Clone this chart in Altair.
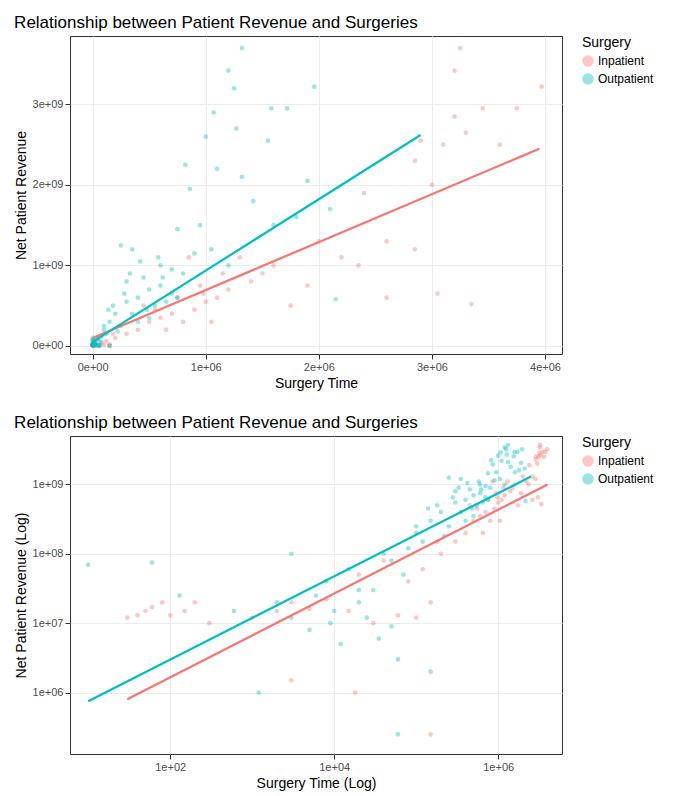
import altair as alt
import pandas as pd

# Outpatient points (surgery time, net patient revenue)
out_x = [1.32e6, 1.2e6, 1.25e6, 1.96e6, 1.72e6, 1.58e6, 1.27e6, 1.07e6, 1.0e6, 1.1e6,
         1.32e6, 1.55e6, 1.42e6, 0.86e6, 0.82e6, 1.6e6, 1.8e6, 2.1e6, 1.9e6, 2.15e6,
         0.95e6, 0.75e6, 0.9e6, 1.05e6, 1.2e6, 0.25e6, 0.35e6, 0.6e6, 0.7e6,
         0.5e6, 0.4e6, 0.3e6, 0.2e6, 0.15e6, 0.1e6, 0.45e6, 0.55e6, 0.6e6, 0.35e6,
         0.25e6, 0.12e6, 0.08e6, 0.05e6, 0.65e6, 0.7e6, 0.3e6, 0.18e6, 0.4e6, 0.22e6,
         0.5e6, 0.8e6, 0.75e6, 0.42e6, 0.28e6, 0.62e6, 0.58e6, 0.33e6, 0.48e6, 0.14e6,
         3e4, 2e4, 1e4, 5e3, 8e3, 1.5e4, 4e4, 3e3, 2e3, 6e3, 2.5e4, 7e4, 1e5, 5e4,
         1.2e4, 3.5e4, 6e4, 2e4, 9e3, 10, 60, 1.2e3, 6e4, 1.5e5, 130, 600, 3e3]
out_y = [3.7e9, 3.42e9, 3.2e9, 3.22e9, 2.95e9, 2.95e9, 2.7e9, 2.9e9, 2.6e9, 2.2e9,
         2.1e9, 2.55e9, 1.8e9, 1.95e9, 2.25e9, 1.5e9, 1.6e9, 1.7e9, 2.05e9, 0.58e9,
         1.5e9, 1.45e9, 1.15e9, 1.2e9, 1.0e9, 1.25e9, 1.2e9, 1.0e9, 0.95e9,
         0.7e9, 0.6e9, 0.55e9, 0.4e9, 0.3e9, 0.25e9, 0.85e9, 0.5e9, 0.75e9, 0.4e9,
         0.25e9, 0.15e9, 0.12e9, 0.08e9, 0.55e9, 0.65e9, 0.8e9, 0.5e9, 0.3e9, 0.18e9,
         0.35e9, 0.9e9, 0.6e9, 1.05e9, 0.65e9, 0.85e9, 1.1e9, 0.9e9, 0.45e9, 0.45e9,
         3e7, 2e7, 1.5e7, 8e6, 4e7, 6e7, 1e8, 1.2e7, 2e7, 2.5e7, 1.2e7, 5e7, 2e8, 9e6,
         5e6, 6e6, 3e6, 3e7, 1e7, 7e7, 7.5e7, 1e6, 2.5e5, 2e6, 2.5e7, 1.5e7, 1e8]

# Inpatient points
in_x = [3.25e6, 3.2e6, 3.97e6, 3.45e6, 3.75e6, 3.2e6, 3.3e6, 3.1e6, 2.85e6, 3.35e6,
        3.05e6, 2.85e6, 2.6e6, 2.6e6, 2.35e6, 2.4e6, 2.2e6, 2.0e6, 1.9e6, 1.75e6,
        1.6e6, 1.5e6, 1.4e6, 1.3e6, 1.2e6, 1.1e6, 1.0e6, 0.95e6, 0.9e6, 0.8e6,
        0.7e6, 0.6e6, 0.5e6, 0.45e6, 0.4e6, 0.3e6, 0.85e6, 0.65e6, 1.05e6, 3.0e6,
        2.9e6, 3.6e6, 0.75e6, 0.55e6, 1.15e6, 0.98e6,
        30, 50, 60, 80, 100, 150, 200, 300, 40, 1e3, 2e3, 3e3, 5e3, 8e3, 1.5e4, 3e4,
        6e4, 1e5, 1.5e5, 2e4, 4e4, 8e4, 1.2e5, 3e3, 1.8e4, 1.5e5, 2e5, 1.8e5]
in_y = [3.7e9, 3.42e9, 3.22e9, 2.95e9, 2.95e9, 2.85e9, 2.65e9, 2.5e9, 2.3e9, 0.52e9,
        0.65e9, 1.2e9, 1.3e9, 0.6e9, 1.0e9, 1.9e9, 1.1e9, 1.3e9, 0.75e9, 0.5e9,
        1.0e9, 0.9e9, 0.8e9, 1.1e9, 0.7e9, 0.6e9, 0.55e9, 0.75e9, 0.45e9, 0.3e9,
        0.4e9, 0.35e9, 0.3e9, 0.5e9, 0.2e9, 0.15e9, 1.1e9, 0.2e9, 0.3e9, 2.0e9,
        2.55e9, 2.5e9, 0.6e9, 0.45e9, 0.9e9, 0.65e9,
        1.2e7, 1.5e7, 1.7e7, 2e7, 1.3e7, 1.5e7, 2e7, 1e7, 1.3e7, 1.2e7, 1.5e7, 2e7,
        1.6e7, 2.2e7, 1.5e7, 1e7, 1.3e7, 1.2e7, 2e7, 5e7, 8e7, 4e7, 6e7, 1.5e6, 1e6,
        2.5e5, 1e8, 1.5e8]

# Fitted lines (endpoints)
lin_fit_x = {"Inpatient": [0, 3.95e6], "Outpatient": [0, 2.9e6]}
lin_fit_y = {"Inpatient": [0.1e9, 2.45e9], "Outpatient": [0.05e9, 2.62e9]}
log_fit_x = {"Inpatient": [30, 4e6], "Outpatient": [10, 2.5e6]}
log_fit_y = {"Inpatient": [8e5, 1e9], "Outpatient": [7.5e5, 1.3e9]}

pts = pd.concat([
    pd.DataFrame({"x": in_x, "y": in_y, "Surgery": "Inpatient"}),
    pd.DataFrame({"x": out_x, "y": out_y, "Surgery": "Outpatient"}),
])


def fit_df(fx, fy):
    rows = []
    for k in fx:
        for a, b in zip(fx[k], fy[k]):
            rows.append({"x": a, "y": b, "Surgery": k})
    return pd.DataFrame(rows)


color = alt.Color("Surgery:N", scale=alt.Scale(domain=["Inpatient", "Outpatient"],
                  range=["#F8766D", "#00BFC4"]),
                  legend=alt.Legend(title="Surgery", symbolType="circle",
                                    titleFontSize=14, labelFontSize=12,
                                    titleFontWeight="normal"))
lab = "replace(format(datum.value, '.0e'), 'e+', 'e+0')"
ax = dict(labelExpr=lab, gridColor="#ebebeb", labelColor="#4d4d4d", labelFontSize=11,
          titleFontSize=14, titleFontWeight="normal", tickColor="#333", domain=False)


def panel(xscale, yscale, xt, yt, xv, yv, fit):
    x = alt.X("x:Q", scale=xscale, title=xt, axis=alt.Axis(values=xv, **ax))
    y = alt.Y("y:Q", scale=yscale, title=yt, axis=alt.Axis(values=yv, **ax))
    p = alt.Chart(pts).mark_circle(size=22, opacity=0.4).encode(x=x, y=y, color=color)
    l = alt.Chart(fit).mark_line(strokeWidth=2.2).encode(x=x, y=y, color=color, detail="Surgery:N")
    return (p + l).properties(
        width=492, height=318,
        title=alt.TitleParams("Relationship between Patient Revenue and Surgeries",
                              fontSize=17, fontWeight="normal", anchor="start"))


top = panel(alt.Scale(domain=[-0.2e6, 4.15e6], nice=False),
            alt.Scale(domain=[-0.1e9, 3.85e9], nice=False),
            "Surgery Time", "Net Patient Revenue",
            [0, 1e6, 2e6, 3e6, 4e6], [0, 1e9, 2e9, 3e9],
            fit_df(lin_fit_x, lin_fit_y))
bot = panel(alt.Scale(type="log", domain=[6, 6e6], nice=False),
            alt.Scale(type="log", domain=[1.3e5, 5e9], nice=False),
            "Surgery Time (Log)", "Net Patient Revenue (Log)",
            [1e2, 1e4, 1e6], [1e6, 1e7, 1e8, 1e9],
            fit_df(log_fit_x, log_fit_y))

chart = alt.vconcat(top, bot, spacing=22).resolve_legend(color="independent").configure(
    font="Liberation Sans"
).configure_view(stroke="#333", strokeWidth=1).configure_legend(
    orient="right", offset=20, padding=0
)
chart.save("out.html", embed_options={"renderer": "svg", "actions": False})
